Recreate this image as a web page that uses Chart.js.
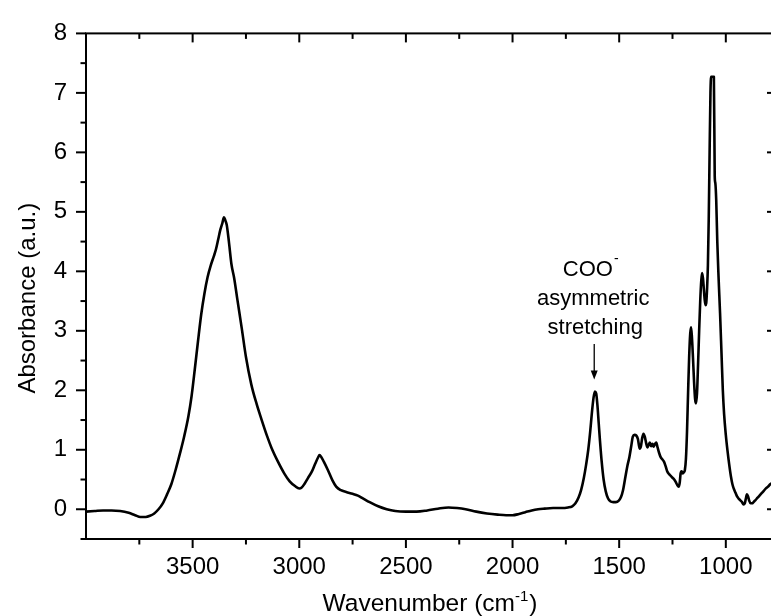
<!DOCTYPE html>
<html>
<head>
<meta charset="utf-8">
<script src="https://cdn.jsdelivr.net/npm/chart.js@4.4.1/dist/chart.umd.min.js"></script>
<style>
  html, body { margin: 0; padding: 0; background: #fff; overflow: hidden; }
  #wrap { width: 777px; height: 616px; position: relative; }
</style>
</head>
<body>
<div id="wrap"><canvas id="spectrum"></canvas></div>
<script>
// FTIR spectrum: wavenumber (cm^-1) and absorbance (a.u.)
const wavenumbers = [
  4000, 3960, 3920, 3880, 3840, 3800, 3770, 3745, 3720, 3700, 3680, 3660, 3640, 3620, 3600,
  3580, 3560, 3540, 3520, 3505, 3490, 3475, 3460, 3445, 3430, 3415, 3400, 3390, 3380, 3370,
  3360, 3353, 3347, 3340, 3330, 3318, 3305, 3290, 3270, 3250, 3225, 3200, 3178, 3150, 3130,
  3100, 3070, 3045, 3020, 3000, 2990, 2975, 2960, 2940, 2926, 2912, 2905, 2897, 2885, 2866,
  2845, 2827, 2805, 2780, 2750, 2725, 2700, 2670, 2630, 2590, 2550, 2500, 2450, 2400, 2350,
  2300, 2260, 2220, 2170, 2120, 2070, 2030, 2000, 1970, 1940, 1910, 1880, 1850, 1810, 1770,
  1740, 1720, 1705, 1690, 1678, 1666, 1655, 1645, 1636, 1628, 1620, 1614, 1608, 1602, 1596,
  1590, 1582, 1573, 1563, 1552, 1540, 1528, 1515, 1503, 1492, 1482, 1472, 1462, 1452, 1444,
  1436, 1428, 1420, 1412, 1404, 1398, 1392, 1386, 1380, 1374, 1368, 1362, 1356, 1350, 1344,
  1338, 1332, 1326, 1320, 1313, 1306, 1298, 1290, 1282, 1275, 1266, 1258, 1250, 1242, 1235,
  1228, 1221, 1216, 1212, 1207, 1202, 1197, 1192, 1187, 1182, 1177, 1172, 1167, 1163, 1159,
  1154, 1149, 1144, 1140, 1135, 1130, 1125, 1120, 1115, 1111, 1107, 1103, 1099, 1095, 1092,
  1088, 1084, 1080, 1076, 1072, 1069, 1056, 1052, 1049, 1045, 1040, 1034, 1027, 1020, 1014,
  1008, 1000, 992, 984, 976, 969, 962, 955, 948, 940, 932, 924, 917, 911, 906,
  901, 896, 890, 884, 877, 870, 862, 852, 842, 832, 822, 812, 802, 792, 782,
  770
];
const absorbance = [
  -0.04, -0.03, -0.02, -0.02, -0.03, -0.06, -0.10, -0.13, -0.13, -0.11, -0.07, 0.00, 0.10, 0.25, 0.42,
  0.66, 0.93, 1.22, 1.56, 1.90, 2.35, 2.82, 3.27, 3.62, 3.90, 4.10, 4.26, 4.38, 4.54, 4.70,
  4.82, 4.91, 4.86, 4.78, 4.50, 4.12, 3.88, 3.52, 3.05, 2.56, 2.10, 1.77, 1.52, 1.22, 1.03,
  0.80, 0.60, 0.47, 0.39, 0.35, 0.36, 0.43, 0.52, 0.64, 0.76, 0.87, 0.91, 0.88, 0.80, 0.66,
  0.49, 0.38, 0.32, 0.29, 0.26, 0.23, 0.18, 0.12, 0.05, 0.00, -0.03, -0.04, -0.04, -0.02, 0.01,
  0.03, 0.02, 0.00, -0.04, -0.07, -0.09, -0.10, -0.10, -0.08, -0.05, -0.02, 0.00, 0.01, 0.02, 0.02,
  0.03, 0.05, 0.10, 0.20, 0.33, 0.52, 0.75, 1.00, 1.30, 1.62, 1.88, 1.98, 1.95, 1.75, 1.45,
  1.15, 0.80, 0.50, 0.30, 0.18, 0.13, 0.12, 0.12, 0.14, 0.20, 0.32, 0.52, 0.72, 0.88, 1.05,
  1.22, 1.25, 1.24, 1.18, 1.02, 1.06, 1.20, 1.27, 1.22, 1.12, 1.04, 1.08, 1.12, 1.06, 1.10,
  1.05, 1.10, 1.12, 1.04, 0.95, 0.88, 0.84, 0.80, 0.72, 0.64, 0.59, 0.56, 0.53, 0.50, 0.46,
  0.41, 0.38, 0.45, 0.60, 0.64, 0.60, 0.62, 0.66, 0.85, 1.30, 1.95, 2.55, 2.95, 3.06, 2.90,
  2.55, 2.15, 1.85, 1.78, 1.95, 2.45, 3.00, 3.50, 3.85, 3.97, 3.88, 3.70, 3.52, 3.43, 3.46,
  3.70, 4.10, 4.90, 6.00, 7.00, 7.27, 7.27, 5.60, 5.48, 5.20, 4.50, 3.90, 3.30, 2.60, 2.00,
  1.60, 1.25, 0.98, 0.75, 0.55, 0.42, 0.34, 0.28, 0.22, 0.18, 0.15, 0.12, 0.08, 0.10, 0.18,
  0.25, 0.22, 0.14, 0.10, 0.10, 0.12, 0.15, 0.19, 0.23, 0.27, 0.31, 0.35, 0.38, 0.42, 0.44,
  0.47
];

// Axis ticks
const xTickLabels = [3500, 3000, 2500, 2000, 1500, 1000];
const yTickLabels = [0, 1, 2, 3, 4, 5, 6, 7, 8];

// Band annotation
const noteLines = ['COO', 'asymmetric', 'stretching'];
const noteWavenumber = 1617;

const FONT = "'Liberation Sans', Arial, Helvetica, sans-serif";

const framePlugin = {
  id: 'frame',
  afterDraw(chart) {
    const { ctx, chartArea: a, scales: { x, y } } = chart;
    ctx.save();
    ctx.strokeStyle = '#000';
    ctx.fillStyle = '#000';
    ctx.lineWidth = 2;
    ctx.strokeRect(a.left, a.top, a.right - a.left, a.bottom - a.top);

    const seg = (x1, y1, x2, y2) => {
      ctx.beginPath(); ctx.moveTo(x1, y1); ctx.lineTo(x2, y2); ctx.stroke();
    };
    // x ticks: outward on bottom, inward on top
    for (let v = 750; v < 4000; v += 250) {
      const px = x.getPixelForValue(v);
      if (px <= a.left + 1 || px >= a.right - 1) continue;
      const len = v % 500 === 0 ? 9 : 5.5;
      seg(px, a.bottom, px, a.bottom + len);
      seg(px, a.top, px, a.top + len);
    }
    // y ticks: outward on left, inward on right
    for (let v = -0.5; v <= 8.001; v += 0.5) {
      const py = y.getPixelForValue(v);
      const major = Math.abs(v - Math.round(v)) < 1e-6;
      const len = major ? 10 : 5.5;
      seg(a.left - len, py, a.left, py);
      if (py < a.bottom - 1 && py > a.top + 1) seg(a.right - len, py, a.right, py);
    }

    // axis titles
    ctx.textBaseline = 'alphabetic';
    ctx.font = `24px ${FONT}`;
    // y title
    ctx.save();
    ctx.translate(35, (a.top + a.bottom) / 2 + 12);
    ctx.rotate(-Math.PI / 2);
    ctx.textAlign = 'center';
    ctx.fillText('Absorbance (a.u.)', 0, 0);
    ctx.restore();
    // x title with superscript
    const main1 = 'Wavenumber (cm', sup = '-1', main2 = ')';
    const tf = `24.5px ${FONT}`, sf = `15px ${FONT}`;
    ctx.font = tf;
    const w1 = ctx.measureText(main1).width, w3 = ctx.measureText(main2).width;
    ctx.font = sf;
    const w2 = ctx.measureText(sup).width;
    const cx = (a.left + a.right) / 2 - 2;
    const sx = cx - (w1 + w2 + w3) / 2;
    const by = 611;
    ctx.textAlign = 'left';
    ctx.font = tf;
    ctx.fillText(main1, sx, by);
    ctx.font = sf;
    ctx.fillText(sup, sx + w1, by - 10);
    ctx.font = tf;
    ctx.fillText(main2, sx + w1 + w2 + 1, by);

    // band annotation with arrow
    const nx = x.getPixelForValue(noteWavenumber);
    const lineY = [4.03, 3.53, 3.04].map(v => y.getPixelForValue(v));
    ctx.font = `22px ${FONT}`;
    ctx.textBaseline = 'middle';
    ctx.textAlign = 'left';
    const cooW = ctx.measureText(noteLines[0]).width;
    ctx.font = `14px ${FONT}`;
    const minusW = ctx.measureText('-').width;
    const startX = nx - 4 - (cooW + minusW) / 2;
    ctx.font = `22px ${FONT}`;
    ctx.fillText(noteLines[0], startX, lineY[0]);
    ctx.font = `14px ${FONT}`;
    ctx.fillText('-', startX + cooW + 1, lineY[0] - 10);
    ctx.font = `22px ${FONT}`;
    ctx.textAlign = 'center';
    ctx.fillText(noteLines[1], nx - 1, lineY[1]);
    ctx.fillText(noteLines[2], nx + 1, lineY[2]);

    const tipY = y.getPixelForValue(2.18);
    const tailY = y.getPixelForValue(2.78);
    ctx.lineWidth = 1.3;
    seg(nx, tailY, nx, tipY - 6);
    ctx.beginPath();
    ctx.moveTo(nx - 3.5, tipY - 9);
    ctx.lineTo(nx + 3.5, tipY - 9);
    ctx.lineTo(nx, tipY);
    ctx.closePath();
    ctx.fill();
    ctx.restore();
  }
};

const points = wavenumbers.map((w, i) => ({ x: w, y: absorbance[i] }));

new Chart(document.getElementById('spectrum'), {
  type: 'line',
  data: {
    datasets: [{
      data: points,
      borderColor: '#000',
      borderWidth: 2.6,
      pointRadius: 0,
      fill: false,
      cubicInterpolationMode: 'monotone',
      borderJoinStyle: 'round'
    }]
  },
  options: {
    responsive: true,
    maintainAspectRatio: false,
    animation: false,
    events: [],
    layout: { padding: { top: 24, right: 0, bottom: 0, left: 0 } },
    plugins: { legend: { display: false }, tooltip: { enabled: false } },
    scales: {
      x: {
        type: 'linear',
        reverse: true,
        min: 760,
        max: 4000,
        grid: { display: false, drawTicks: false },
        border: { display: false },
        afterBuildTicks: s => { s.ticks = xTickLabels.map(v => ({ value: v })); },
        afterFit: s => { s.height = 77; },
        ticks: {
          color: '#000',
          font: { family: FONT, size: 24 },
          padding: 14,
          maxRotation: 0,
          autoSkip: false,
          callback: v => String(v)
        }
      },
      y: {
        type: 'linear',
        min: -0.5,
        max: 8,
        grid: { display: false, drawTicks: false },
        border: { display: false },
        afterBuildTicks: s => { s.ticks = yTickLabels.map(v => ({ value: v })); },
        afterFit: s => { s.width = 86; },
        ticks: {
          color: '#000',
          font: { family: FONT, size: 24 },
          padding: 19,
          callback: v => String(v)
        }
      }
    }
  },
  plugins: [framePlugin]
});
</script>
</body>
</html>
